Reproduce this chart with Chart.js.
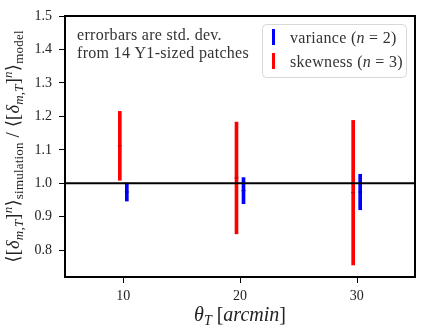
<!DOCTYPE html>
<html>
<head>
<meta charset="utf-8">
<script src="https://cdn.jsdelivr.net/npm/chart.js@4.4.0/dist/chart.umd.min.js"></script>
<style>
    html, body { margin: 0; padding: 0; background: #fff; }
    #wrap { width: 436px; height: 327px; }
</style>
</head>
<body>
<div id="wrap"><canvas id="chart" width="436" height="327"></canvas></div>
<script>
const xTicks = [10, 20, 30];
const yTicks = [0.8, 0.9, 1.0, 1.1, 1.2, 1.3, 1.4, 1.5];

const varianceX = [10.3, 20.3, 30.3];
const varianceMean = [0.974, 0.978, 0.974];
const varianceErr = [0.027, 0.039, 0.053];

const skewnessX = [9.7, 19.7, 29.7];
const skewnessMean = [1.112, 1.016, 0.972];
const skewnessErr = [0.103, 0.167, 0.216];

const referenceLine = 1.0;

const SERIF = '"Liberation Serif", "DejaVu Serif", serif';
const font = (size, italic) => (italic ? 'italic ' : '') + size + 'px ' + SERIF;

// draws a row of text pieces (for sub/superscripts)
function drawRich(ctx, runs, x, y, align) {
    let total = 0;
    runs.forEach(r => {
        ctx.font = r.font;
        r.w = ctx.measureText(r.t).width;
        total += r.w;
    });
    let cx = align === 'center' ? x - total / 2 : x;
    runs.forEach(r => {
        ctx.font = r.font;
        ctx.fillText(r.t, cx, y + (r.dy || 0));
        cx += r.w;
    });
}

function bracketRuns(tail) {
    return [
        { t: '\u27E8[', font: font(18.5) },
        { t: '\u03B4', font: font(18.5, true) },
        { t: 'm,T', font: font(13, true), dy: 3.5 },
        { t: ']', font: font(18.5) },
        { t: 'n', font: font(13, true), dy: -7.5 },
        { t: '\u27E9', font: font(18.5) },
        { t: tail, font: font(13), dy: 3.5 }
    ];
}

const decorations = {
    id: 'decorations',
    afterDraw(chart) {
        const { ctx, chartArea: a } = chart;
        const xScale = chart.scales.x;
        ctx.save();

        // frame
        ctx.strokeStyle = '#000';
        ctx.lineWidth = 2;
        ctx.strokeRect(a.left, a.top, a.right - a.left, a.bottom - a.top);

        // x tick marks
        ctx.lineWidth = 1;
        ctx.beginPath();
        xTicks.forEach(v => {
            const px = Math.round(xScale.getPixelForValue(v)) + 0.5;
            ctx.moveTo(px, a.bottom);
            ctx.lineTo(px, a.bottom + 6);
        });
        ctx.stroke();

        // note
        ctx.fillStyle = '#333';
        ctx.textBaseline = 'alphabetic';
        ctx.textAlign = 'left';
        ctx.letterSpacing = '0.3px';
        ctx.font = font(16);
        ctx.fillText('errorbars are std. dev.', a.left + 12, a.top + 23.5);
        ctx.fillText('from 14 Y1-sized patches', a.left + 12, a.top + 41.5);

        // legend
        const bx = a.right - 153, by = a.top + 8, bw = 144, bh = 53;
        ctx.fillStyle = 'rgba(255,255,255,0.8)';
        ctx.strokeStyle = '#d8d8d8';
        ctx.lineWidth = 1;
        ctx.beginPath();
        ctx.roundRect(bx + 0.5, by + 0.5, bw, bh, 4);
        ctx.fill();
        ctx.stroke();

        const rows = [
            { color: '#0000ff', n: '2', y: by + 5, base: by + 18.5 },
            { color: '#ff0000', n: '3', y: by + 29, base: by + 42.5 }
        ];
        rows.forEach((r, i) => {
            ctx.fillStyle = r.color;
            ctx.fillRect(bx + 10, r.y, 3, 16);
            ctx.fillStyle = '#333';
            drawRich(ctx, [
                { t: (i === 0 ? 'variance' : 'skewness') + ' (', font: font(16) },
                { t: 'n', font: font(16, true) },
                { t: ' = ' + r.n + ')', font: font(16) }
            ], bx + 28, r.base, 'left');
        });

        // x title
        ctx.letterSpacing = '0px';
        ctx.fillStyle = '#222';
        drawRich(ctx, [
            { t: '\u03B8', font: font(20, true) },
            { t: 'T', font: font(14, true), dy: 4 },
            { t: ' [', font: font(20) },
            { t: 'arcmin', font: font(20, true) },
            { t: ']', font: font(20) }
        ], (a.left + a.right) / 2, 321, 'center');

        // y title
        ctx.letterSpacing = '0.2px';
        ctx.translate(19, (a.top + a.bottom) / 2);
        ctx.rotate(-Math.PI / 2);
        drawRich(ctx, [
            ...bracketRuns('simulation'),
            { t: ' / ', font: font(18.5) },
            ...bracketRuns('model')
        ], 0, 0, 'center');

        ctx.restore();
    }
};

const tickFont = { family: SERIF, size: 14 };

const errorBars = (xs, mean, err) => xs.map((x, i) => ({ x, y: [mean[i] - err[i], mean[i] + err[i]] }));
const centers = (xs, mean) => xs.map((x, i) => ({ x, y: mean[i] }));

new Chart(document.getElementById('chart'), {
    type: 'bar',
    data: {
        datasets: [
            {
                type: 'line',
                data: [{ x: 5, y: referenceLine }, { x: 35, y: referenceLine }],
                borderColor: '#000',
                borderWidth: 2,
                pointRadius: 0,
                order: 0
            },
            {
                type: 'scatter',
                data: centers(varianceX, varianceMean),
                pointStyle: 'line',
                radius: 2,
                borderColor: '#0000aa',
                borderWidth: 1,
                order: 1
            },
            {
                type: 'scatter',
                data: centers(skewnessX, skewnessMean),
                pointStyle: 'line',
                radius: 2,
                borderColor: '#bb0000',
                borderWidth: 1,
                order: 1
            },
            {
                label: 'variance (n = 2)',
                data: errorBars(varianceX, varianceMean, varianceErr),
                backgroundColor: '#0000ff',
                barThickness: 3,
                grouped: false,
                order: 2
            },
            {
                label: 'skewness (n = 3)',
                data: errorBars(skewnessX, skewnessMean, skewnessErr),
                backgroundColor: '#ff0000',
                barThickness: 3,
                grouped: false,
                order: 2
            }
        ]
    },
    options: {
        responsive: false,
        animation: false,
        layout: { padding: { top: 16, right: 21, left: 0, bottom: 0 } },
        plugins: {
            legend: { display: false },
            tooltip: { enabled: false }
        },
        scales: {
            x: {
                type: 'linear',
                min: 5,
                max: 35,
                offset: false,
                afterBuildTicks: s => { s.ticks = xTicks.map(v => ({ value: v })); },
                afterFit: s => { s.height = 50; },
                ticks: { font: tickFont, color: '#222', padding: 5, maxRotation: 0, callback: v => String(v) },
                grid: { display: false, offset: false, drawOnChartArea: false, tickLength: 6 },
                border: { display: true, color: '#000', width: 2 }
            },
            y: {
                min: 0.72,
                max: 1.5,
                afterBuildTicks: s => { s.ticks = yTicks.map(v => ({ value: v })); },
                afterFit: s => { s.width = 65; },
                ticks: { font: tickFont, color: '#222', padding: 7, callback: v => v.toFixed(1) },
                grid: { display: true, drawOnChartArea: false, tickLength: 6, color: '#000', lineWidth: 1 },
                border: { display: true, color: '#000', width: 2 }
            }
        }
    },
    plugins: [decorations]
});
</script>
</body>
</html>
